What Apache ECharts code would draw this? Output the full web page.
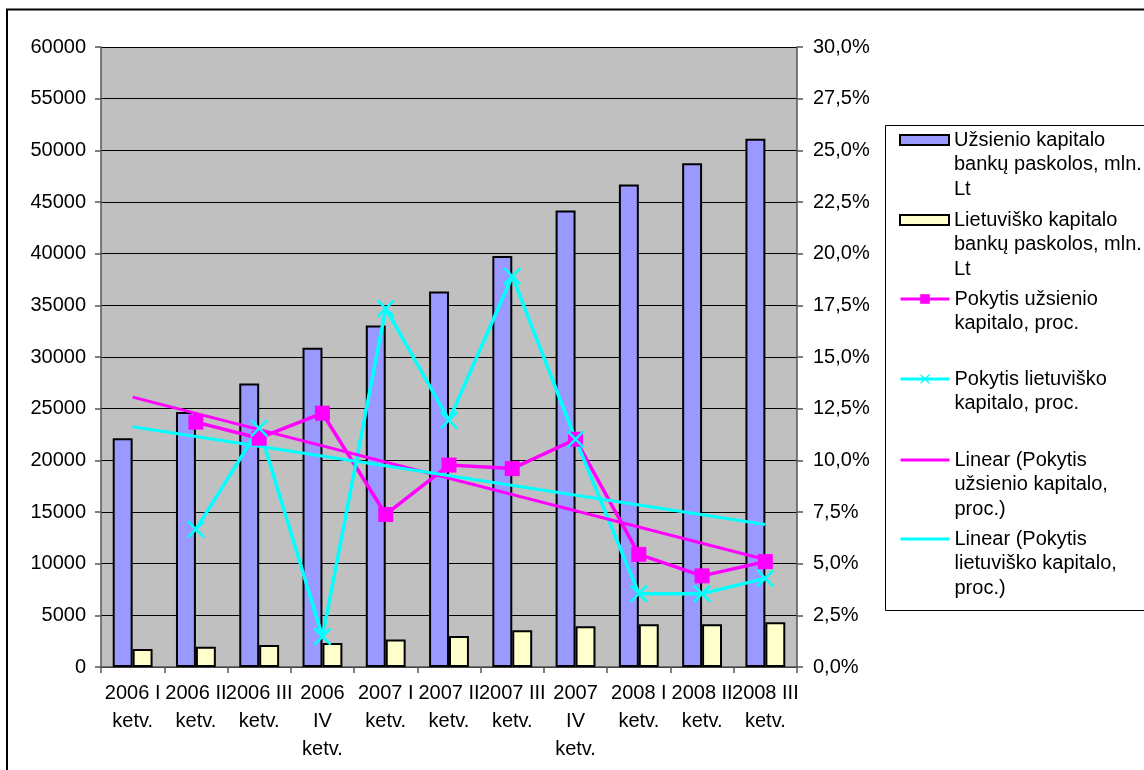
<!DOCTYPE html>
<html>
<head>
<meta charset="utf-8">
<title>Bankų paskolos</title>
<script src="https://cdn.jsdelivr.net/npm/echarts@6/dist/echarts.min.js"></script>
<style>
  html, body { margin: 0; padding: 0; background: #fff; }
  #chart { width: 1144px; height: 770px; }
</style>
</head>
<body>
<div id="chart"></div>
<script>
// Quarterly loans of foreign- and Lithuanian-capital banks (mln. Lt) and their quarterly change (%)
const categories = [
  '2006 I ketv.', '2006 II ketv.', '2006 III ketv.', '2006 IV ketv.',
  '2007 I ketv.', '2007 II ketv.', '2007 III ketv.', '2007 IV ketv.',
  '2008 I ketv.', '2008 II ketv.', '2008 III ketv.'
];
const foreignLoans  = [22140, 24670, 27440, 30900, 33040, 36330, 39780, 44180, 46700, 48750, 51110];
const domesticLoans = [1730, 1950, 2140, 2330, 2670, 3010, 3560, 3950, 4140, 4140, 4340];
const foreignChange  = [null, 11.85, 11.07, 12.28, 7.38, 9.77, 9.60, 11.02, 5.45, 4.41, 5.10];
const domesticChange = [null, 6.66, 11.55, 1.47, 17.35, 11.94, 18.91, 11.02, 3.55, 3.55, 4.29];
// Linear trend lines: values at the first and last quarter
const foreignTrend  = [13.06, null, null, null, null, null, null, null, null, null, 5.20];
const domesticTrend = [11.62, null, null, null, null, null, null, null, null, null, 6.89];

const leftTicks = { min: 0, max: 60000, interval: 5000 };
const rightTicks = { min: 0, max: 30, interval: 2.5 };

const seriesNames = [
  'Užsienio kapitalo bankų paskolos, mln. Lt',
  'Lietuviško kapitalo bankų paskolos, mln. Lt',
  'Pokytis užsienio kapitalo, proc.',
  'Pokytis lietuviško kapitalo, proc.',
  'Linear (Pokytis užsienio kapitalo, proc.)',
  'Linear (Pokytis lietuviško kapitalo, proc.)'
];
const legendLines = [
  ['Užsienio kapitalo', 'bankų paskolos, mln.', 'Lt'],
  ['Lietuviško kapitalo', 'bankų paskolos, mln.', 'Lt'],
  ['Pokytis užsienio', 'kapitalo, proc.'],
  ['Pokytis lietuviško', 'kapitalo, proc.'],
  ['Linear (Pokytis', 'užsienio kapitalo,', 'proc.)'],
  ['Linear (Pokytis', 'lietuviško kapitalo,', 'proc.)']
];

const FONT = "'Liberation Sans', Arial, sans-serif";
const crossSymbol = 'path://M0,1 L1,0 L5,4 L9,0 L10,1 L6,5 L10,9 L9,10 L5,6 L1,10 L0,9 L4,5 Z';

// One legend block per entry so that each icon sits level with its first text line
const LEGEND_LH = 24.5;
const legendRows = [140, 220, 299, 379, 460, 539];
function legendBlock(i) {
  const lines = legendLines[i];
  const n = lines.length;
  const isBar = i < 2;
  const isTrend = i >= 4;
  const item = { name: seriesNames[i] };
  if (isBar) item.icon = 'rect';
  else item.lineStyle = { width: 3 };
  if (isTrend) item.itemStyle = { opacity: 0 };
  return {
    orient: 'vertical',
    left: 899,
    top: legendRows[i] - (2 * n - 1) * LEGEND_LH / 2,
    padding: 0,
    itemWidth: 49,
    itemHeight: isBar ? 10 : 12,
    selectedMode: false,
    data: [item],
    formatter: () => '\n'.repeat(n - 1) + lines.join('\n'),
    textStyle: { fontFamily: FONT, fontSize: 20, lineHeight: LEGEND_LH, color: '#000' }
  };
}

function categoryLabel(v) {
  return v.includes(' IV ') ? v.split(' ').join('\n') : v.replace(' ketv.', '\nketv.');
}

const chart = echarts.init(document.getElementById('chart'), null, { renderer: 'canvas' });
chart.setOption({
  animation: false,
  backgroundColor: '#fff',
  textStyle: { fontFamily: FONT },
  graphic: [
    {
      type: 'rect', z: 0,
      shape: { x: 7, y: 9.5, width: 1170, height: 800 },
      style: { fill: null, stroke: '#000', lineWidth: 2 }
    },
    {
      type: 'rect', z: 1,
      shape: { x: 885.5, y: 125.5, width: 300, height: 485 },
      style: { fill: '#fff', stroke: '#000', lineWidth: 1 }
    }
  ],
  legend: seriesNames.map((_, i) => legendBlock(i)),
  grid: {
    left: 101, top: 47, right: 347, bottom: 103,
    show: true, backgroundColor: '#C0C0C0', borderWidth: 0
  },
  xAxis: {
    type: 'category',
    data: categories,
    boundaryGap: true,
    axisLine: { lineStyle: { color: '#555', width: 1.5 } },
    axisTick: { show: true, length: 6, alignWithLabel: false, lineStyle: { color: '#555', width: 1.5 } },
    axisLabel: {
      interval: 0, margin: 12, color: '#000', fontSize: 20, lineHeight: 28,
      fontFamily: FONT, formatter: categoryLabel
    },
    splitLine: { show: false }
  },
  yAxis: [
    {
      type: 'value',
      min: leftTicks.min, max: leftTicks.max, interval: leftTicks.interval,
      axisLine: { show: true, lineStyle: { color: '#555', width: 1.5 } },
      axisTick: { show: true, length: 6, lineStyle: { color: '#555', width: 1.5 } },
      axisLabel: {
        margin: 15, color: '#000', fontSize: 20, fontFamily: FONT,
        formatter: v => String(v)
      },
      splitLine: { show: true, lineStyle: { color: '#000', width: 1 } }
    },
    {
      type: 'value',
      min: rightTicks.min, max: rightTicks.max, interval: rightTicks.interval,
      position: 'right',
      axisLine: { show: true, lineStyle: { color: '#555', width: 1.5 } },
      axisTick: { show: true, length: 6, lineStyle: { color: '#555', width: 1.5 } },
      axisLabel: {
        margin: 16, color: '#000', fontSize: 20, fontFamily: FONT,
        formatter: v => v.toFixed(1).replace('.', ',') + '%'
      },
      splitLine: { show: false }
    }
  ],
  series: [
    {
      name: seriesNames[0], type: 'bar', yAxisIndex: 0, data: foreignLoans,
      barWidth: '31.5%', barGap: '0%',
      itemStyle: { color: '#9999FF', borderColor: '#000', borderWidth: 2 }
    },
    {
      name: seriesNames[1], type: 'bar', yAxisIndex: 0, data: domesticLoans,
      barWidth: '31.5%', barGap: '0%',
      itemStyle: { color: '#FFFFCC', borderColor: '#000', borderWidth: 2 }
    },
    {
      name: seriesNames[2], type: 'line', yAxisIndex: 1, data: foreignChange,
      symbol: 'rect', symbolSize: 15, connectNulls: false,
      lineStyle: { color: '#FF00FF', width: 3.5 },
      itemStyle: { color: '#FF00FF' }
    },
    {
      name: seriesNames[3], type: 'line', yAxisIndex: 1, data: domesticChange,
      symbol: crossSymbol, symbolSize: 18,
      lineStyle: { color: '#00FFFF', width: 3.5 },
      itemStyle: { color: '#00FFFF' }
    },
    {
      name: seriesNames[4], type: 'line', yAxisIndex: 1, data: foreignTrend,
      symbol: 'none', connectNulls: true,
      lineStyle: { color: '#FF00FF', width: 3 },
      itemStyle: { color: '#FF00FF' }
    },
    {
      name: seriesNames[5], type: 'line', yAxisIndex: 1, data: domesticTrend,
      symbol: 'none', connectNulls: true,
      lineStyle: { color: '#00FFFF', width: 3 },
      itemStyle: { color: '#00FFFF' }
    }
  ]
});
</script>
</body>
</html>
